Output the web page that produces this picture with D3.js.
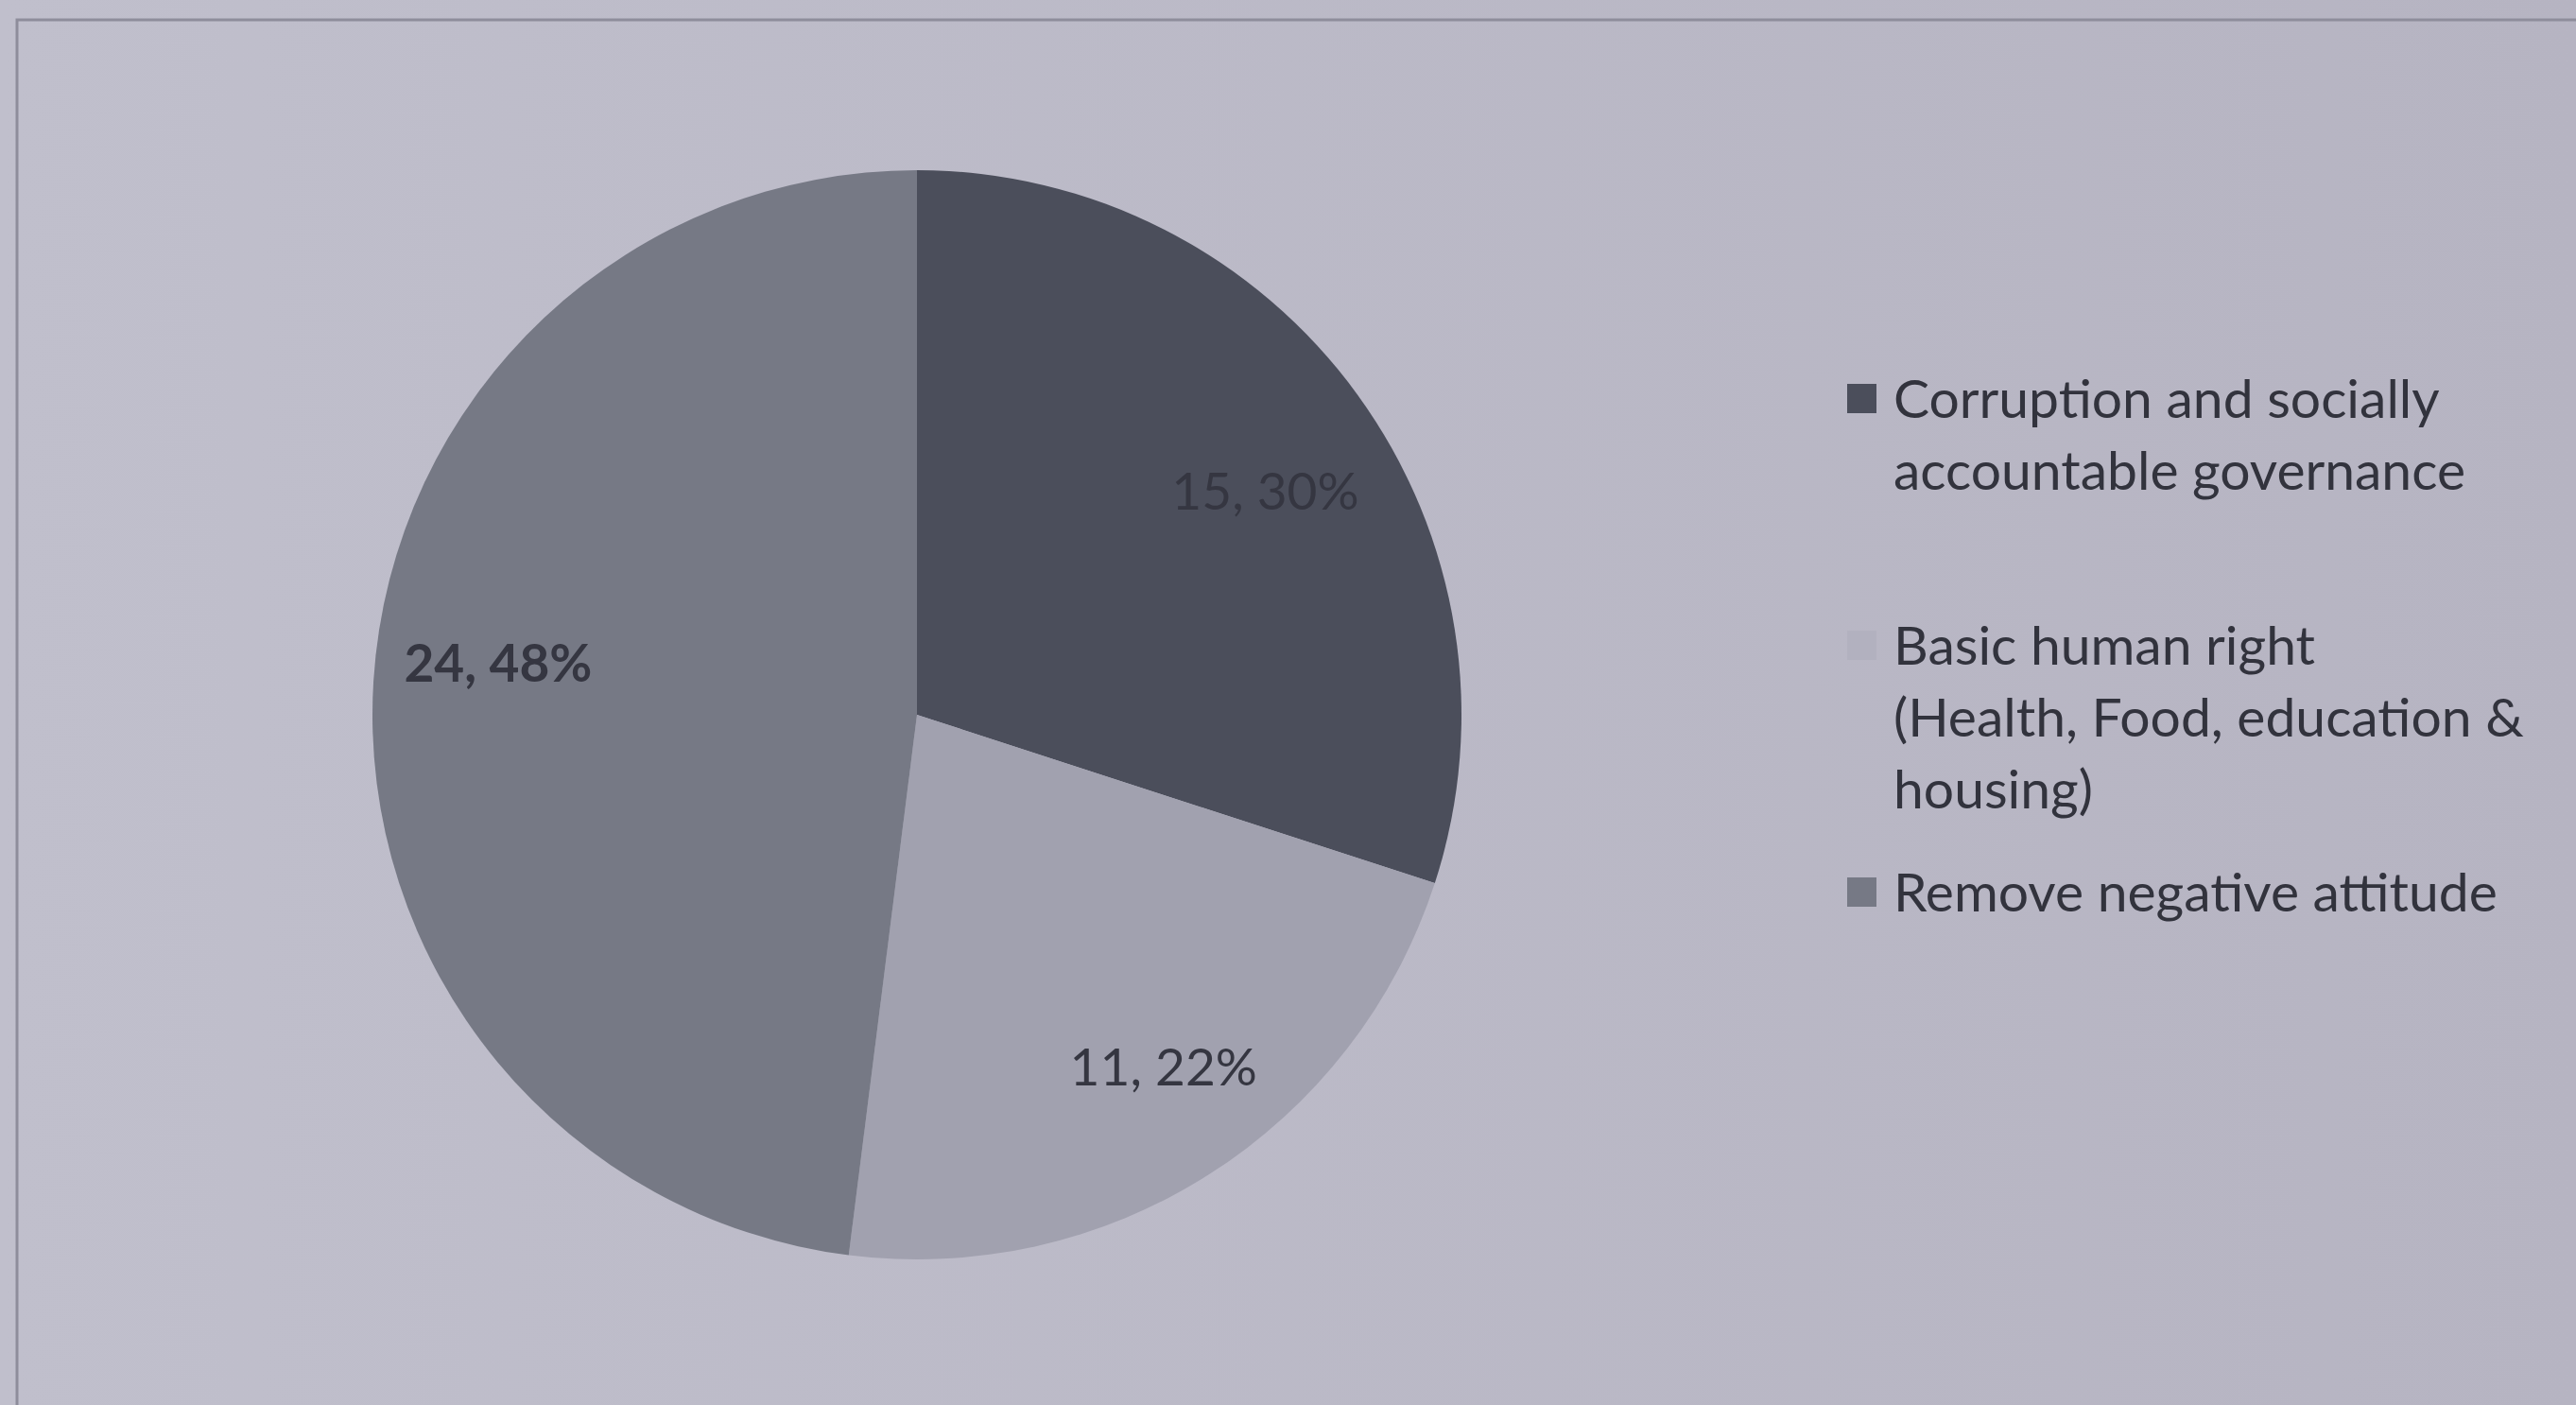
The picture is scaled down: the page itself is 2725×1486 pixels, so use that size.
<!DOCTYPE html>
<html>
<head>
    <title></title>
    <meta charset="utf-8" />
    <script src="https://cdn.jsdelivr.net/npm/d3@7/dist/d3.min.js"></script>
    <style>
        body { margin: 0; background: #bcbbc9; }
        .legend text { font-family: Lato, "Open Sans", sans-serif; font-size: 57px; fill: #32333d; }
        .lbl { font-family: Lato, "Open Sans", sans-serif; font-size: 55px; fill: #353641; }
    </style>
</head>
<body>
    <script>
        // data
        var categories = ['Corruption and socially accountable governance',
                          'Basic human right (Health, Food, education & housing)',
                          'Remove negative attitude'];
        var values = [15, 11, 24];
        var percents = ['30%', '22%', '48%'];
        var colors = ['#4b4e5b', '#a1a1af', '#767985'];

        // legend lines as wrapped in the chart
        var legendLines = [
            ['Corruption and socially', 'accountable governance'],
            ['Basic human right', '(Health, Food, education &', 'housing)'],
            ['Remove negative attitude']
        ];

        var W = 2725, H = 1486;
        var cx = 970, cy = 756, r = 576;

        var svg = d3.select('body').append('svg').attr('width', W).attr('height', H);

        // background with a slight left-to-right shading
        var grad = svg.append('defs').append('linearGradient').attr('id', 'bg');
        grad.append('stop').attr('offset', '0%').attr('stop-color', '#c0bfcc');
        grad.append('stop').attr('offset', '100%').attr('stop-color', '#b6b4c2');
        svg.append('rect').attr('width', W).attr('height', H).attr('fill', 'url(#bg)');

        // chart frame
        svg.append('rect')
            .attr('x', 18).attr('y', 21)
            .attr('width', W).attr('height', H)
            .attr('fill', 'none').attr('stroke', '#8e8d9b').attr('stroke-width', 3);

        var pie = d3.pie().sort(null).value(function (d) { return d; });
        var arcs = pie(values);
        var arc = d3.arc().innerRadius(0).outerRadius(r);

        var g = svg.append('g').attr('transform', 'translate(' + cx + ',' + cy + ')');

        g.selectAll('path')
            .data(arcs)
            .enter()
            .append('path')
            .attr('d', arc)
            .attr('fill', function (d, i) { return colors[i]; });

        // data labels; the big slice's label was moved towards the left edge
        var labelArc = d3.arc().innerRadius(r * 0.78).outerRadius(r * 0.78);
        var nudge = [[5, 28], [20, -7], [0, 0]];
        g.selectAll('.lbl')
            .data(arcs)
            .enter()
            .append('text')
            .attr('class', 'lbl')
            .attr('text-anchor', 'middle')
            .attr('dy', '0.35em')
            .attr('font-weight', function (d, i) { return i === 2 ? 'bold' : 'normal'; })
            .attr('transform', function (d, i) {
                var p = labelArc.centroid(d);
                if (i === 2) {
                    var a = 277 * Math.PI / 180, rr = r * 0.775;
                    p = [Math.sin(a) * rr, -Math.cos(a) * rr];
                }
                return 'translate(' + (p[0] + nudge[i][0]) + ',' + (p[1] + nudge[i][1]) + ')';
            })
            .text(function (d, i) { return values[i] + ', ' + percents[i]; });

        // legend
        var lineH = 76;
        var starts = [422, 683, 944];
        var legend = svg.append('g').attr('class', 'legend');
        var items = legend.selectAll('g')
            .data(categories)
            .enter()
            .append('g')
            .attr('transform', function (d, i) { return 'translate(1954,' + starts[i] + ')'; });

        items.append('rect')
            .attr('x', 0).attr('y', -16)
            .attr('width', 31).attr('height', 31)
            .attr('fill', function (d, i) { return i === 1 ? '#b2b1bf' : colors[i]; });

        items.append('text')
            .selectAll('tspan')
            .data(function (d, i) { return legendLines[i]; })
            .enter()
            .append('tspan')
            .attr('x', 49)
            .attr('y', function (d, j) { return j * lineH; })
            .attr('dy', '0.35em')
            .text(function (d) { return d; });
    </script>
</body>
</html>
